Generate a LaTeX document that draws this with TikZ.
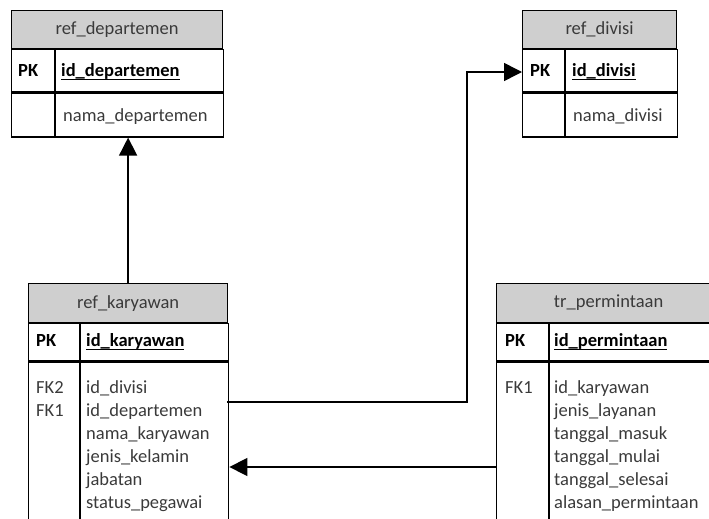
\documentclass[tikz,border=0pt]{standalone}
\usepackage{fontspec}
\setmainfont{Carlito}
\usetikzlibrary{positioning,arrows.meta}
\definecolor{hdrgray}{HTML}{CFCFCF}
\definecolor{txtgray}{HTML}{3A3A3A}
\newcommand{\pkey}[1]{\setbox0\hbox{#1}\rlap{\rule[-3.8pt]{\wd0}{1pt}}\box0}

\begin{document}
\begin{tikzpicture}[x=1pt, y=-1pt, font=\fontsize{18.5}{23}\selectfont,
	cell/.style={draw, line width=1.2pt, inner sep=0pt, anchor=north west},
	hdr/.style={cell, fill=hdrgray, text=txtgray},
	lbl/.style={anchor=base west, inner sep=0pt, text=txtgray},
	key/.style={lbl, text=black, font=\fontsize{18.5}{23}\selectfont\bfseries},
	link/.style={line width=1.5pt, -{Triangle[length=18pt, width=18pt]}}]
	\useasboundingbox (0,0) rectangle (709,519);
	\clip (0,0) rectangle (709,519);

	% ref_departemen
	\node[hdr, minimum width=211, minimum height=38] (dep-hdr) at (11,10) {ref\_departemen};
	\node[cell, minimum width=43, minimum height=42] (dep-k1) at (dep-hdr.south west) {};
	\node[cell, minimum width=168, minimum height=42] (dep-pk) at (dep-k1.north east) {};
	\node[cell, minimum width=43, minimum height=44] (dep-k2) at (dep-k1.south west) {};
	\node[cell, minimum width=168, minimum height=44] (dep-fld) at (dep-k2.north east) {};
	\node[key] (dep-pkl) at (18,76) {PK};
	\node[key] (dep-id) at (61,76) {\pkey{id\_departemen}};
	\node[lbl] (dep-f1) at (63,121) {nama\_departemen};

	% ref_divisi
	\node[hdr, minimum width=154, minimum height=38] (div-hdr) at (522,10) {ref\_divisi};
	\node[cell, minimum width=42, minimum height=42] (div-k1) at (div-hdr.south west) {};
	\node[cell, minimum width=112, minimum height=42] (div-pk) at (div-k1.north east) {};
	\node[cell, minimum width=42, minimum height=44] (div-k2) at (div-k1.south west) {};
	\node[cell, minimum width=112, minimum height=44] (div-fld) at (div-k2.north east) {};
	\node[key] (div-pkl) at (530,76) {PK};
	\node[key] (div-id) at (572,76) {\pkey{id\_divisi}};
	\node[lbl] (div-f1) at (573,121) {nama\_divisi};

	% ref_karyawan
	\node[hdr, minimum width=199, minimum height=39] (kar-hdr) at (28,283) {ref\_karyawan};
	\node[cell, minimum width=51, minimum height=37] (kar-k1) at (kar-hdr.south west) {};
	\node[cell, minimum width=148, minimum height=37] (kar-pk) at (kar-k1.north east) {};
	\node[cell, minimum width=51, minimum height=180] (kar-k2) at (kar-k1.south west) {};
	\node[cell, minimum width=148, minimum height=180] (kar-fld) at (kar-k2.north east) {};
	\node[key] (kar-pkl) at (36,346) {PK};
	\node[key] (kar-id) at (86,346) {\pkey{id\_karyawan}};
	\node[lbl] (kar-fk2) at (36,393) {FK2};
	\node[lbl] (kar-fk1) at (36,416) {FK1};
	\foreach \f [count=\i from 0] in {id\_divisi, id\_departemen, nama\_karyawan, jenis\_kelamin, jabatan, status\_pegawai}
		\node[lbl] (kar-f\i) at (86,393+23*\i) {\f};

	% tr_permintaan
	\node[hdr, minimum width=224, minimum height=39] (tr-hdr) at (496,283) {tr\_permintaan};
	\node[cell, minimum width=52, minimum height=37] (tr-k1) at (tr-hdr.south west) {};
	\node[cell, minimum width=172, minimum height=37] (tr-pk) at (tr-k1.north east) {};
	\node[cell, minimum width=52, minimum height=180] (tr-k2) at (tr-k1.south west) {};
	\node[cell, minimum width=172, minimum height=180] (tr-fld) at (tr-k2.north east) {};
	\node[key] (tr-pkl) at (505,346) {PK};
	\node[key] (tr-id) at (554,346) {\pkey{id\_permintaan}};
	\node[lbl] (tr-fk1) at (505,393) {FK1};
	\foreach \f [count=\i from 0] in {id\_karyawan, jenis\_layanan, tanggal\_masuk, tanggal\_mulai, tanggal\_selesai, alasan\_permintaan}
		\node[lbl] (tr-f\i) at (554,393+23*\i) {\f};

	% relasi
	\coordinate (kar-out) at (227,402);
	\coordinate (div-in) at (522,72);
	\coordinate (tr-out) at (496,467);
	\draw[link] (kar-hdr.north) -- (kar-hdr.north |- dep-fld.south);
	\draw[link] (kar-out) -- ++(240,0) |- (div-in);
	\draw[link] (tr-out) -- (tr-out -| kar-fld.east);
\end{tikzpicture}
\end{document}
